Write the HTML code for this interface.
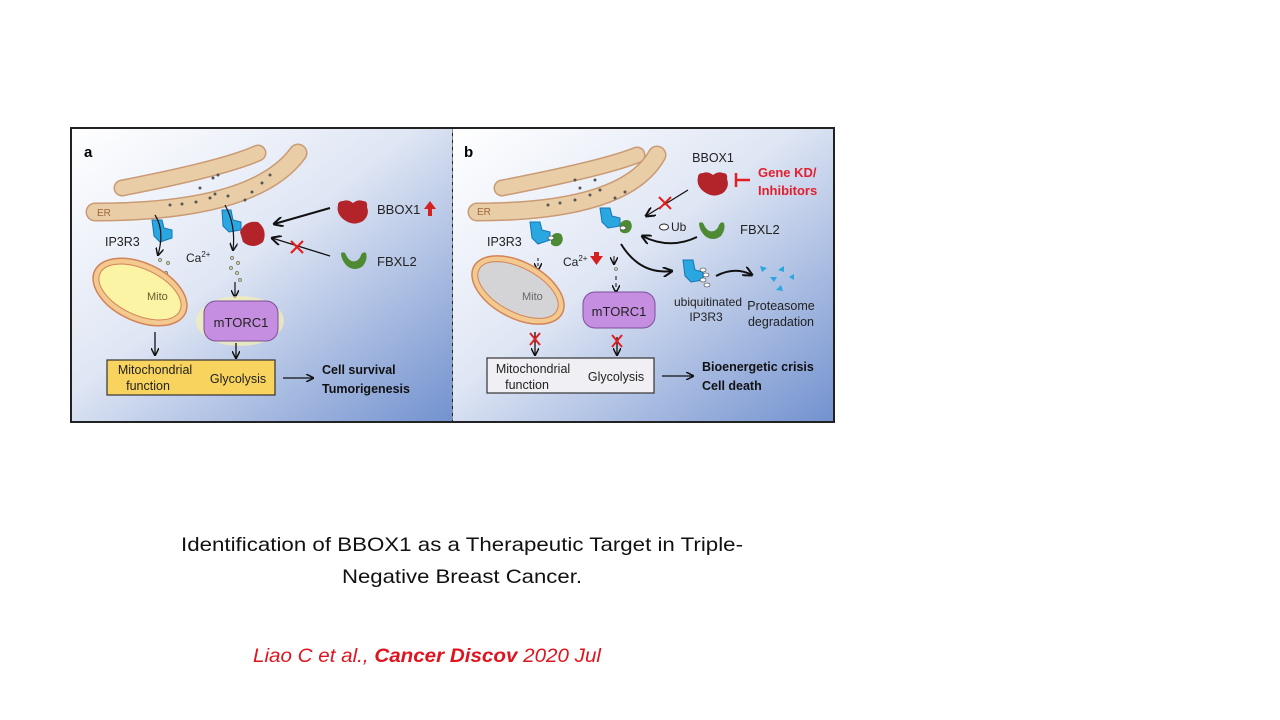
<!DOCTYPE html>
<html><head><meta charset="utf-8"><style>
html,body{margin:0;padding:0;background:#fff;width:1280px;height:720px;overflow:hidden}
svg{display:block}
</style></head><body>
<svg width="1280" height="720" viewBox="0 0 1280 720" font-family="Liberation Sans, Arial, sans-serif">
<defs>
<linearGradient id="bg" x1="0" y1="0" x2="1" y2="1">
<stop offset="0" stop-color="#ffffff"/><stop offset="0.45" stop-color="#dfe6f4"/><stop offset="1" stop-color="#7392cf"/>
</linearGradient>
<marker id="ah" markerWidth="8" markerHeight="8" refX="7" refY="4" orient="auto" markerUnits="userSpaceOnUse"><path d="M0,0 L8,4 L0,8" fill="none" stroke="#111" stroke-width="1.5"/></marker>
<marker id="ahb" markerWidth="10" markerHeight="10" refX="9" refY="5" orient="auto" markerUnits="userSpaceOnUse"><path d="M0,0 L10,5 L0,10" fill="none" stroke="#111" stroke-width="2"/></marker>
</defs>
<rect x="70" y="127" width="765" height="296" fill="#222"/>
<rect x="72" y="129" width="380" height="292" fill="url(#bg)"/>
<rect x="453" y="129" width="380" height="292" fill="url(#bg)"/>
<line x1="452.5" y1="129" x2="452.5" y2="421" stroke="#888" stroke-dasharray="4,3"/>

<!-- PANEL A -->
<text x="84" y="157" font-size="15" font-weight="bold">a</text>
<g fill="none" stroke-linecap="round">
<path d="M122,188 Q225,168 258,153" stroke="#c99a73" stroke-width="17"/>
<path d="M122,188 Q225,168 258,153" stroke="#e9cda6" stroke-width="14"/>
<path d="M95,212 Q255,212 298,153" stroke="#c99a73" stroke-width="19"/>
<path d="M95,212 Q255,212 298,153" stroke="#e9cda6" stroke-width="16"/>
</g>
<text x="97" y="216" font-size="10" fill="#a0643c">ER</text>
<g fill="#555"><circle cx="170" cy="205" r="1.5"/><circle cx="182" cy="204" r="1.5"/><circle cx="196" cy="202" r="1.5"/><circle cx="210" cy="198" r="1.5"/><circle cx="215" cy="194" r="1.5"/><circle cx="228" cy="196" r="1.5"/><circle cx="245" cy="200" r="1.5"/><circle cx="252" cy="192" r="1.5"/><circle cx="200" cy="188" r="1.5"/><circle cx="213" cy="178" r="1.5"/><circle cx="218" cy="175" r="1.5"/><circle cx="262" cy="183" r="1.5"/><circle cx="270" cy="175" r="1.5"/></g>
<path d="M152,220 l10,0 l2,8 l8,2 l0,8 l-12,4 l-6,-6 z" fill="#2aa6e0" stroke="#1577b3"/>
<path d="M222,210 l9,0 l2,10 l8,2 l0,8 l-12,2 l-6,-6 z" fill="#2aa6e0" stroke="#1577b3"/>
<path d="M240,232 q5,-12 18,-10 q10,8 5,20 q-10,8 -20,0 z" fill="#b3242a"/>
<text x="105" y="246" font-size="12.5" fill="#222">IP3R3</text>
<text x="186" y="262" font-size="12" fill="#222">Ca<tspan font-size="8" dy="-5">2+</tspan></text>
<path d="M155,215 Q165,230 158,255" fill="none" stroke="#111" stroke-width="1.2" marker-end="url(#ah)"/>
<path d="M225,205 Q236,225 233,250" fill="none" stroke="#111" stroke-width="1.2" marker-end="url(#ah)"/>
<g fill="#cdd39a" stroke="#555" stroke-width="0.6"><circle cx="160" cy="260" r="1.6"/><circle cx="168" cy="263" r="1.6"/><circle cx="157" cy="270" r="1.6"/><circle cx="166" cy="273" r="1.6"/><circle cx="232" cy="258" r="1.6"/><circle cx="238" cy="263" r="1.6"/><circle cx="231" cy="268" r="1.6"/><circle cx="237" cy="273" r="1.6"/><circle cx="240" cy="280" r="1.6"/></g>
<path d="M235,282 L235,297" stroke="#111" stroke-width="1.2" marker-end="url(#ah)"/>
<path d="M338,205 q0,-4 5,-4 q5,-2 10,2 q5,-4 10,-2 q5,0 4,6 q3,8 -4,14 q-10,6 -20,-2 q-7,-6 -5,-14z" fill="#b3242a"/>
<text x="377" y="214" font-size="13" fill="#222">BBOX1</text>
<path d="M428,216 l0,-7 l-4,0 l6,-8 l6,8 l-4,0 l0,7 z" fill="#d42020"/>
<path d="M341,253 q4,-2 5,2 q4,8 10,6 q4,-2 5,-6 q2,-4 5,-2 q2,6 -3,13 q-8,6 -16,0 q-6,-6 -6,-13z" fill="#4d8a33"/>
<text x="377" y="266" font-size="13" fill="#222">FBXL2</text>
<line x1="330" y1="208" x2="274" y2="224" stroke="#111" stroke-width="2" marker-end="url(#ahb)"/>
<line x1="330" y1="256" x2="272" y2="238" stroke="#111" stroke-width="1.3" marker-end="url(#ahb)"/>
<path d="M291,241 l12,12 M303,241 l-12,12" stroke="#e02020" stroke-width="2.2"/>
<g transform="rotate(25 140 292)"><ellipse cx="140" cy="292" rx="50" ry="29" fill="#f4c98f" stroke="#d28358" stroke-width="1.5"/><ellipse cx="140" cy="292" rx="44" ry="23" fill="#fbf4a4" stroke="#d28358"/></g>
<text x="147" y="300" font-size="11" fill="#6b5a2b">Mito</text>
<ellipse cx="240" cy="321" rx="44" ry="25" fill="#f3f0b0" opacity="0.7"/>
<rect x="204" y="301" width="74" height="40" rx="12" fill="#c58ee0" stroke="#7c4f9b"/>
<text x="241" y="327" font-size="13" fill="#222" text-anchor="middle">mTORC1</text>
<line x1="155" y1="332" x2="155" y2="355" stroke="#111" stroke-width="1.3" marker-end="url(#ah)"/>
<line x1="236" y1="343" x2="236" y2="358" stroke="#111" stroke-width="1.3" marker-end="url(#ah)"/>
<rect x="107" y="360" width="168" height="35" fill="#f8d35e" stroke="#333" stroke-width="1.2"/>
<text font-size="12.5" fill="#222" text-anchor="middle"><tspan x="155" y="374">Mitochondrial</tspan><tspan x="148" y="390">function</tspan></text>
<text x="238" y="383" font-size="12.5" fill="#222" text-anchor="middle">Glycolysis</text>
<line x1="283" y1="378" x2="313" y2="378" stroke="#111" stroke-width="1.3" marker-end="url(#ah)"/>
<text font-size="12.5" font-weight="bold" fill="#111"><tspan x="322" y="374">Cell survival</tspan><tspan x="322" y="393">Tumorigenesis</tspan></text>

<!-- PANEL B -->
<text x="464" y="157" font-size="15" font-weight="bold">b</text>
<g fill="none" stroke-linecap="round">
<path d="M502,188 Q605,168 637,155" stroke="#c99a73" stroke-width="17"/>
<path d="M502,188 Q605,168 637,155" stroke="#e9cda6" stroke-width="14"/>
<path d="M477,212 Q625,212 657,155" stroke="#c99a73" stroke-width="19"/>
<path d="M477,212 Q625,212 657,155" stroke="#e9cda6" stroke-width="16"/>
</g>
<text x="477" y="215" font-size="10" fill="#a0643c">ER</text>
<g fill="#555"><circle cx="548" cy="205" r="1.5"/><circle cx="560" cy="203" r="1.5"/><circle cx="575" cy="200" r="1.5"/><circle cx="590" cy="195" r="1.5"/><circle cx="600" cy="190" r="1.5"/><circle cx="615" cy="198" r="1.5"/><circle cx="625" cy="192" r="1.5"/><circle cx="580" cy="188" r="1.5"/><circle cx="595" cy="180" r="1.5"/><circle cx="575" cy="180" r="1.5"/></g>
<path d="M530,222 l10,0 l2,8 l8,2 l0,8 l-12,4 l-6,-6 z" fill="#2aa6e0" stroke="#1577b3"/>
<path d="M551,237 q4,-6 10,-3 q4,6 -1,11 q-5,3 -9,-1z" fill="#4d8a33"/>
<ellipse cx="551" cy="238" rx="3" ry="2" fill="#fff" stroke="#333" stroke-width="0.6"/>
<path d="M600,208 l10,0 l2,8 l8,2 l0,8 l-12,2 l-6,-6 z" fill="#2aa6e0" stroke="#1577b3"/>
<path d="M620,224 q4,-6 10,-3 q4,6 -1,11 q-5,3 -9,-1z" fill="#4d8a33"/>
<ellipse cx="623" cy="228" rx="3" ry="2" fill="#fff" stroke="#333" stroke-width="0.6"/>
<text x="487" y="246" font-size="12.5" fill="#222">IP3R3</text>
<text x="563" y="266" font-size="12" fill="#222">Ca<tspan font-size="8" dy="-5">2+</tspan></text>
<path d="M594,256 l0,-4 l5,0 l0,4 l4,0 l-6.5,9 l-6.5,-9 z" fill="#d42020"/>
<line x1="538" y1="258" x2="538" y2="270" stroke="#111" stroke-dasharray="3,2" marker-end="url(#ah)"/>
<circle cx="535" cy="277" r="1.5" fill="#cdd39a" stroke="#555" stroke-width="0.6"/>
<line x1="614" y1="256" x2="614" y2="264" stroke="#111" marker-end="url(#ah)"/>
<circle cx="616" cy="269" r="1.5" fill="#cdd39a" stroke="#555" stroke-width="0.6"/>
<line x1="616" y1="276" x2="616" y2="292" stroke="#111" stroke-dasharray="4,3" marker-end="url(#ah)"/>
<text x="713" y="162" font-size="12.5" fill="#222" text-anchor="middle">BBOX1</text>
<path d="M698,177 q0,-4 5,-4 q5,-2 10,2 q5,-4 10,-2 q5,0 4,6 q3,8 -4,14 q-10,6 -20,-2 q-7,-6 -5,-14z" fill="#b3242a"/>
<path d="M736,180 l14,0 M736,173 l0,14" stroke="#e02020" stroke-width="2.5"/>
<text font-size="13" font-weight="bold" fill="#e0202e"><tspan x="758" y="177">Gene KD/</tspan><tspan x="758" y="195">Inhibitors</tspan></text>
<line x1="688" y1="190" x2="646" y2="216" stroke="#111" stroke-width="1.3" marker-end="url(#ahb)"/>
<path d="M659,197 l12,12 M671,197 l-12,12" stroke="#e02020" stroke-width="2"/>
<ellipse cx="664" cy="227" rx="4.5" ry="3" fill="#fff" stroke="#222"/>
<text x="671" y="231" font-size="12" fill="#222">Ub</text>
<path d="M699,223 q4,-2 5,2 q4,8 10,6 q4,-2 5,-6 q2,-4 5,-2 q2,6 -3,13 q-8,6 -16,0 q-6,-6 -6,-13z" fill="#4d8a33"/>
<text x="740" y="234" font-size="13" fill="#222">FBXL2</text>
<path d="M697,237 Q670,250 642,236" fill="none" stroke="#111" stroke-width="2" marker-end="url(#ahb)"/>
<path d="M621,244 Q640,275 672,271" fill="none" stroke="#111" stroke-width="2" marker-end="url(#ahb)"/>
<path d="M683,260 l10,0 l2,10 l8,2 l0,8 l-12,2 l-6,-6 z" fill="#2aa6e0" stroke="#1577b3"/>
<g fill="#fff" stroke="#333" stroke-width="0.6"><ellipse cx="703" cy="270" rx="3" ry="2"/><ellipse cx="706" cy="275" rx="3" ry="2"/><ellipse cx="703" cy="280" rx="3" ry="2"/><ellipse cx="707" cy="285" rx="3" ry="2"/></g>
<path d="M716,276 Q735,266 752,275" fill="none" stroke="#111" stroke-width="2" marker-end="url(#ahb)"/>
<g fill="#2aa6e0"><path d="M760,266 l7,2 l-5,4z"/><path d="M778,270 l6,-4 l0,6z"/><path d="M770,277 l7,0 l-3,5z"/><path d="M789,277 l5,-3 l0,6z"/><path d="M776,290 l5,-5 l2,6z"/></g>
<text font-size="12" fill="#222" text-anchor="middle"><tspan x="708" y="306">ubiquitinated</tspan><tspan x="706" y="321">IP3R3</tspan></text>
<text font-size="12.5" fill="#222" text-anchor="middle"><tspan x="781" y="310">Proteasome</tspan><tspan x="781" y="326">degradation</tspan></text>
<g transform="rotate(28 518 290)"><ellipse cx="518" cy="290" rx="50" ry="28" fill="#f4c98f" stroke="#d28358" stroke-width="1.5"/><ellipse cx="518" cy="290" rx="44" ry="22" fill="#d4d4d6" stroke="#d28358"/></g>
<text x="522" y="300" font-size="11" fill="#666">Mito</text>
<rect x="583" y="292" width="72" height="36" rx="12" fill="#c58ee0" stroke="#7c4f9b"/>
<text x="619" y="316" font-size="13" fill="#222" text-anchor="middle">mTORC1</text>
<line x1="535" y1="332" x2="535" y2="355" stroke="#111" stroke-width="1.3" marker-end="url(#ah)"/>
<path d="M530,333 l10,12 M540,333 l-10,12" stroke="#e02020" stroke-width="2"/>
<line x1="617" y1="337" x2="617" y2="355" stroke="#111" stroke-width="1.3" marker-end="url(#ah)"/>
<path d="M612,335 l10,12 M622,335 l-10,12" stroke="#e02020" stroke-width="2"/>
<rect x="487" y="358" width="167" height="35" fill="#f0f0f4" stroke="#333" stroke-width="1.2"/>
<text font-size="12.5" fill="#222" text-anchor="middle"><tspan x="533" y="373">Mitochondrial</tspan><tspan x="527" y="389">function</tspan></text>
<text x="616" y="381" font-size="12.5" fill="#222" text-anchor="middle">Glycolysis</text>
<line x1="662" y1="376" x2="693" y2="376" stroke="#111" stroke-width="1.3" marker-end="url(#ah)"/>
<text font-size="12.5" font-weight="bold" fill="#111"><tspan x="702" y="371">Bioenergetic crisis</tspan><tspan x="702" y="390">Cell death</tspan></text>

<!-- captions -->
<text x="462" y="551" font-size="19.5" fill="#111" text-anchor="middle" textLength="562" lengthAdjust="spacingAndGlyphs">Identification of BBOX1 as a Therapeutic Target in Triple-</text>
<text x="462" y="583" font-size="19.5" fill="#111" text-anchor="middle" textLength="240" lengthAdjust="spacingAndGlyphs">Negative Breast Cancer.</text>
<text x="253" y="662" font-size="19.5" fill="#e0141e" font-style="italic" textLength="348" lengthAdjust="spacingAndGlyphs">Liao C et al., <tspan font-weight="bold">Cancer Discov</tspan> 2020 Jul</text>
</svg>
</body></html>
